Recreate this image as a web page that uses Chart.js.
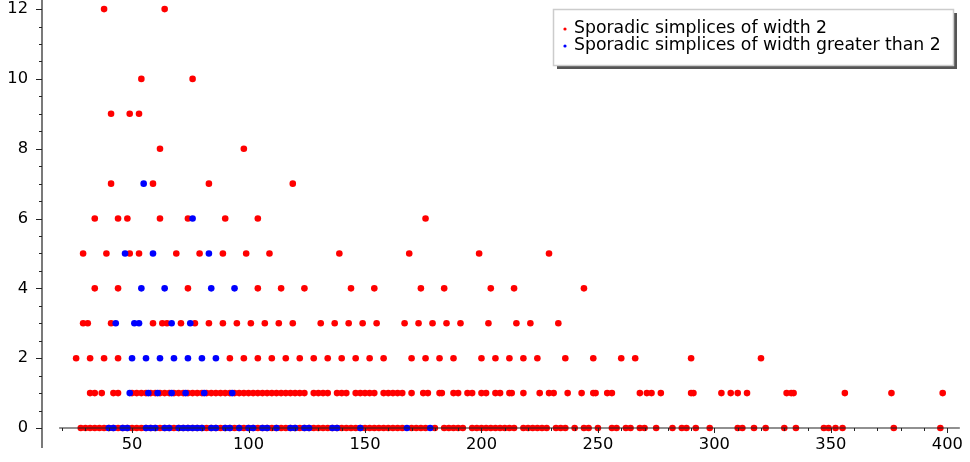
<!DOCTYPE html>
<html>
  <head>
    <meta charset="utf-8">
    <title>sporadic simplices</title>
    <script src="https://cdn.jsdelivr.net/npm/chart.js@4.4.1/dist/chart.umd.min.js"></script>
    <style>
      html, body { margin: 0; padding: 0; background: #ffffff; }
      #wrap { width: 970px; height: 462px; }
    </style>
  </head>
  <body>
    <div id="wrap"><canvas id="myChart" width="970" height="462"></canvas></div>
  <script>
    // tick labels
    const xTicks = [50, 100, 150, 200, 250, 300, 350, 400];
    const yTicks = [0, 2, 4, 6, 8, 10, 12];

    // width 2 simplices: x positions for each y level
    const w2At0 = [28, 30, 32, 34, 36, 38, 40, 42, 44, 46, 48, 50, 52, 54, 56, 58, 60, 62, 64, 66, 68, 70,
      72, 74, 76, 78, 80, 82, 84, 86, 88, 90, 92, 94, 96, 98, 100, 102, 104, 106, 108, 110, 112, 114,
      116, 118, 120, 122, 124, 126, 128, 130, 132, 134, 136, 138, 140, 142, 144, 146, 148, 150, 152,
      154, 156, 158, 160, 162, 164, 166, 170, 172, 174, 176, 180, 184, 186, 188, 190, 192, 196, 198,
      200, 202, 204, 206, 208, 210, 212, 214, 218, 220, 222, 224, 226, 228, 232, 234, 236, 240, 244,
      246, 250, 256, 258, 262, 264, 268, 270, 275, 282, 286, 288, 292, 298, 310, 312, 317, 322, 330,
      335, 347, 349, 352, 355, 377, 397];
    const w2At1 = [32, 34, 37, 42, 44, 50, 52, 54, 56, 58, 60, 62, 64, 66, 68, 70, 72, 74, 76, 78, 80,
      82, 84, 86, 88, 90, 92, 94, 96, 98, 100, 102, 104, 106, 108, 110, 112, 114, 116, 118, 120, 122,
      124, 128, 130, 132, 134, 138, 140, 142, 146, 148, 150, 152, 154, 158, 160, 162, 164, 166, 170,
      175, 177, 182, 183, 188, 190, 194, 196, 200, 202, 206, 208, 212, 213, 218, 225, 229, 231, 237,
      243, 248, 249, 254, 256, 268, 271, 273, 277, 290, 291, 303, 307, 310, 314, 331, 333, 334, 356,
      376, 398];
    const w2At2 = [26, 32, 38, 44, 92, 98, 104, 110, 116, 122, 128, 134, 140, 146, 152, 158, 170, 176,
      182, 188, 200, 206, 212, 218, 224, 236, 248, 260, 266, 290, 320];
    const w2At3 = [29, 31, 41, 59, 63, 65, 71, 77, 83, 89, 95, 101, 107, 113, 119, 131, 137, 143, 149,
      155, 167, 173, 179, 185, 191, 203, 215, 221, 233];
    const w2At4 = [34, 44, 74, 104, 114, 124, 144, 154, 174, 184, 204, 214, 244];
    const w2At5 = [29, 39, 49, 53, 69, 79, 89, 99, 109, 139, 169, 199, 229];
    const w2At6 = [34, 44, 48, 62, 74, 90, 104, 176];
    const w2At7 = [41, 59, 83, 119];
    const w2At8 = [62, 98];
    const w2At9 = [41, 49, 53];
    const w2At10 = [54, 76];
    const w2At12 = [38, 64];

    // width greater than 2
    const wgAt0 = [40, 42, 46, 48, 56, 58, 60, 64, 66, 70, 72, 74, 76, 78, 80, 84, 86, 90, 92, 96, 100,
      102, 106, 108, 112, 118, 120, 124, 126, 136, 138, 148, 168, 178];
    const wgAt1 = [49, 57, 61, 67, 73, 81, 93];
    const wgAt2 = [50, 56, 62, 68, 74, 80, 86];
    const wgAt3 = [43, 51, 53, 67, 75];
    const wgAt4 = [54, 64, 84, 94];
    const wgAt5 = [47, 59, 83];
    const wgAt6 = [76];
    const wgAt7 = [55];

    function toPoints(rows) {
      const pts = [];
      rows.forEach(function (r) {
        r[1].forEach(function (x) { pts.push({x: x, y: r[0]}); });
      });
      return pts;
    }

    const width2 = toPoints([[0, w2At0], [1, w2At1], [2, w2At2], [3, w2At3], [4, w2At4], [5, w2At5],
      [6, w2At6], [7, w2At7], [8, w2At8], [9, w2At9], [10, w2At10], [12, w2At12]]);
    const widthMore = toPoints([[0, wgAt0], [1, wgAt1], [2, wgAt2], [3, wgAt3], [4, wgAt4], [5, wgAt5],
      [6, wgAt6], [7, wgAt7]]);

    const axisColor = '#222222';
    const font = {family: 'DejaVu Sans', size: 16.3};

    // sage style axes: spines, major and minor ticks
    const sageAxes = {
      id: 'sageAxes',
      afterDraw: function (chart) {
        const ctx = chart.ctx;
        const xs = chart.scales.x, ys = chart.scales.y;
        const area = chart.chartArea;
        const y0 = ys.getPixelForValue(0);
        ctx.save();
        ctx.strokeStyle = axisColor;
        ctx.lineWidth = 1.2;
        ctx.beginPath();
        ctx.moveTo(area.left, area.top);
        ctx.lineTo(area.left, area.bottom);
        ctx.moveTo(xs.getPixelForValue(18.7), y0);
        ctx.lineTo(area.right, y0);
        ctx.stroke();
        ctx.lineWidth = 1;
        ctx.beginPath();
        for (let v = 20; v <= 400; v += 10) {
          const px = Math.round(xs.getPixelForValue(v)) + 0.5;
          const len = v % 50 === 0 ? 5 : 3;
          ctx.moveTo(px, y0);
          ctx.lineTo(px, y0 + len);
        }
        for (let v = 0; v <= 12; v += 0.5) {
          const py = Math.round(ys.getPixelForValue(v)) + 0.5;
          const len = v % 2 === 0 ? 6 : 3;
          ctx.moveTo(area.left, py);
          ctx.lineTo(area.left - len, py);
        }
        ctx.stroke();
        ctx.restore();
      }
    };

    // legend box with drop shadow, top right
    const boxLegend = {
      id: 'boxLegend',
      afterDraw: function (chart) {
        const ctx = chart.ctx;
        const left = 553, top = 9, w = 400, h = 56;
        ctx.save();
        ctx.fillStyle = '#555555';
        ctx.fillRect(left + 4, top + 4, w, h);
        ctx.fillStyle = '#ffffff';
        ctx.fillRect(left, top, w, h);
        ctx.strokeStyle = '#cccccc';
        ctx.lineWidth = 1.5;
        ctx.strokeRect(left + 0.5, top + 0.5, w, h);
        ctx.font = '17.3px "DejaVu Sans"';
        ctx.textBaseline = 'middle';
        chart.data.datasets.forEach(function (ds, i) {
          const cy = 29 + i * 17;
          ctx.fillStyle = ds.backgroundColor;
          ctx.beginPath();
          ctx.arc(565, cy, 1.6, 0, Math.PI * 2);
          ctx.fill();
          ctx.fillStyle = '#000000';
          ctx.fillText(ds.label, 574, cy);
        });
        ctx.restore();
      }
    };

    const ctx = document.getElementById('myChart').getContext('2d');
    const myChart = new Chart(ctx, {
      type: 'scatter',
      data: {
        datasets: [{
          label: 'Sporadic simplices of width 2',
          data: width2,
          backgroundColor: '#ff0000',
          order: 2
        }, {
          label: 'Sporadic simplices of width greater than 2',
          data: widthMore,
          backgroundColor: '#0000ff',
          order: 1
        }]
      },
      options: {
        responsive: false,
        devicePixelRatio: 1,
        animation: false,
        layout: {autoPadding: false, padding: {left: 0, right: 8, top: 0, bottom: 14}},
        elements: {point: {radius: 3.3, borderWidth: 0, hoverRadius: 3.3}},
        datasets: {scatter: {clip: false}},
        plugins: {legend: {display: false}, tooltip: {enabled: false}},
        scales: {
          x: {
            type: 'linear',
            position: {y: 0},
            min: 11.35,
            max: 405.35,
            afterBuildTicks: function (s) { s.ticks = xTicks.map(function (v) { return {value: v}; }); },
            afterFit: function (s) { s.height = 0; },
            grid: {display: true, drawOnChartArea: false, drawTicks: false},
            border: {display: false},
            ticks: {color: '#000000', font: font, padding: 7, maxRotation: 0, autoSkip: false}
          },
          y: {
            type: 'linear',
            position: 'left',
            min: -0.573,
            max: 12.26,
            afterBuildTicks: function (s) { s.ticks = yTicks.map(function (v) { return {value: v}; }); },
            afterFit: function (s) { s.width = 42; s.paddingTop = 0; s.paddingBottom = 0; },
            grid: {display: true, drawOnChartArea: false, drawTicks: false},
            border: {display: false},
            ticks: {color: '#000000', font: font, padding: 14, autoSkip: false}
          }
        }
      },
      plugins: [sageAxes, boxLegend]
    });
  </script>
  </body>
</html>
